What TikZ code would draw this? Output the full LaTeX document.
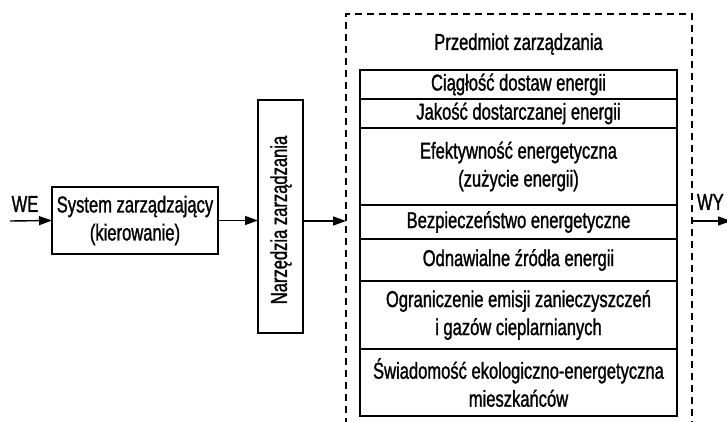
\documentclass[tikz,border=0pt]{standalone}
\usepackage{fontspec}
\setmainfont[FakeStretch=0.72,FakeBold=1.2]{Liberation Sans}
\usetikzlibrary{arrows.meta}
\begin{document}
\begin{tikzpicture}[x=1pt,y=-1pt,
  every node/.style={font=\fontsize{23}{28}\selectfont, inner sep=0pt, outer sep=0pt},
  blk/.style={draw, line width=1.5pt, align=center},
  item/.style={draw, line width=1.5pt, align=center, minimum width=317pt},
  arr/.style={line width=1.4pt, -{Triangle[length=13pt,width=9pt]}},
  dashframe/.style={line width=1.3pt, dash pattern=on 7pt off 5pt}]
\clip (0,0) rectangle (727,422);
\useasboundingbox (0,0) rectangle (727,422);
% left part
\node[blk, minimum width=166pt, minimum height=67pt] (sys) at (135,220.5) {System zarządzający\\(kierowanie)};
\node[blk, minimum width=45pt, minimum height=233pt] (nz) at (280.5,216.5) {};
\node[rotate=90] (nzt) at (281,220) {Narzędzia zarządzania};
\node (we) at (25,204) {WE};
\coordinate (wein) at (10,221);
\coordinate (dl) at (346,221);
\coordinate (dr) at (692,221);
\coordinate (wyend) at (731,221);
\node[anchor=west] (wy) at (697,202) {WY};
\draw[arr] (wein) -- (sys.west);
\draw[arr] (sys.east) -- (sys.east -| nz.west);
\draw[arr] (nz.east |- dl) -- (dl);
\draw[arr] (dr) -- (wyend);
% dashed frame
\coordinate (fbl) at (346,425);
\coordinate (ftl) at (346,14);
\coordinate (ftr) at (692,14);
\coordinate (fbr) at (692,425);
\draw[dashframe] (fbl) -- (ftl) -- (ftr) -- (fbr);
\node (pz) at (518.5,44) {Przedmiot zarządzania};
% stack
\node[item, minimum height=29pt] (b1) at (518.5,84.5) {Ciągłość dostaw energii};
\node[item, minimum height=29pt] (b2) at (518.5,113.5) {Jakość dostarczanej energii};
\node[item, minimum height=77pt] (b3) at (518.5,166.5) {Efektywność energetyczna\\(zużycie energii)};
\node[item, minimum height=34pt] (b4) at (518.5,222) {Bezpieczeństwo energetyczne};
\node[item, minimum height=42pt] (b5) at (518.5,260) {Odnawialne źródła energii};
\node[item, minimum height=68pt] (b6) at (518.5,315) {Ograniczenie emisji zanieczyszczeń\\i gazów cieplarnianych};
\node[item, minimum height=67pt] (b7) at (518.5,382.5) {Świadomość ekologiczno-energetyczna\\mieszkańców};
\end{tikzpicture}
\end{document}
